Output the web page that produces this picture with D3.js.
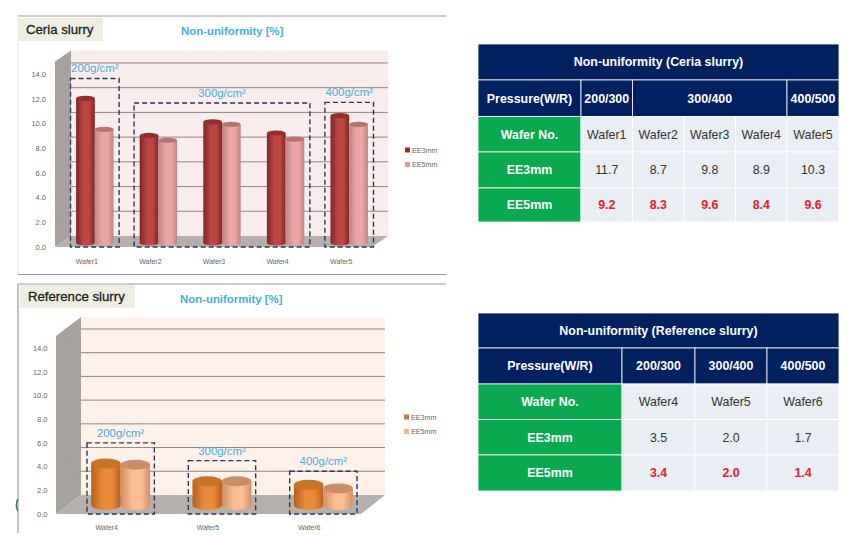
<!DOCTYPE html>
<html>
<head>
<meta charset="utf-8">
<title>Non-uniformity</title>
<script src="https://cdn.jsdelivr.net/npm/d3@7"></script>
<style>
html, body { margin: 0; padding: 0; background: #fff; }
svg { display: block; }
text { font-family: "Liberation Sans", Arial, sans-serif; }
</style>
</head>
<body>
<div id="chart"></div>
<script>
// values
var seriesNames = ["EE3mm", "EE5mm"];
var tickValues = [0, 2, 4, 6, 8, 10, 12, 14];

var ceriaWafers = ["Wafer1", "Wafer2", "Wafer3", "Wafer4", "Wafer5"];
var ceriaEE3 = [11.7, 8.7, 9.8, 8.9, 10.3];
var ceriaEE5 = [9.2, 8.3, 9.6, 8.4, 9.6];
var ceriaPressure = ["200/300", "300/400", "400/500"];
var ceriaPressureSpan = [1, 3, 1];

var refWafers = ["Wafer4", "Wafer5", "Wafer6"];
var refEE3 = [3.5, 2.0, 1.7];
var refEE5 = [3.4, 2.0, 1.4];
var refPressure = ["200/300", "300/400", "400/500"];
var refPressureSpan = [1, 1, 1];

var loadLabels = ["200g/cm\u00b2", "300g/cm\u00b2", "400g/cm\u00b2"];

var width = 857, height = 537;
var svg = d3.select("#chart").append("svg").attr("width", width).attr("height", height);
var defs = svg.append("defs");

// horizontal shading so the bars look round
function cylGradient(id, edge, mid) {
	var g = defs.append("linearGradient").attr("id", id);
	g.append("stop").attr("offset", "0%").attr("stop-color", edge);
	g.append("stop").attr("offset", "40%").attr("stop-color", mid);
	g.append("stop").attr("offset", "70%").attr("stop-color", mid);
	g.append("stop").attr("offset", "100%").attr("stop-color", edge);
}
cylGradient("ceria3", "#7f2525", "#bd4643");
cylGradient("ceria5", "#c08484", "#e9a6a4");
cylGradient("ref3", "#b95f1c", "#e98a3a");
cylGradient("ref5", "#d18f66", "#fcbd92");

function drawPanel(p) {
	var g = svg.append("g");
	var yFront = d3.scaleLinear().domain([0, 15]).range([p.frontBase, p.frontBase - 15 * p.unit]);
	var yBack = d3.scaleLinear().domain([0, 15]).range([p.backBase, p.backBase - 15 * p.unit]);
	var yBar = d3.scaleLinear().domain([0, 15]).range([p.barBase, p.barBase - 15 * p.unit]);
	var x = d3.scaleBand().domain(p.wafers).range(p.bandRange);

	// back wall, side wall, floor
	g.append("rect")
		.attr("x", p.backLeft).attr("y", yBack(15))
		.attr("width", p.backRight - p.backLeft).attr("height", p.backBase - yBack(15))
		.attr("fill", p.wall);
	g.append("polygon")
		.attr("points", [[p.frontLeft, yFront(0)], [p.frontLeft, yFront(15)], [p.backLeft, yBack(15)], [p.backLeft, yBack(0)]].join(" "))
		.attr("fill", "#a7a29e");
	g.append("polygon")
		.attr("points", [[p.frontLeft, yFront(0)], [p.backLeft, yBack(0)], [p.backRight, yBack(0)], [p.frontRight, yFront(0)]].join(" "))
		.attr("fill", "#b6b0ad");

	// gridlines, skipping the one on the floor edge
	g.selectAll(".grid").data(tickValues.slice(1)).enter().append("line")
		.attr("x1", p.backLeft).attr("x2", p.backRight)
		.attr("y1", function(d) { return yBack(d); })
		.attr("y2", function(d) { return yBack(d); })
		.attr("stroke", "#8d8682").attr("stroke-width", 1);
	g.selectAll(".sideGrid").data(tickValues.slice(1)).enter().append("line")
		.attr("x1", p.frontLeft).attr("x2", p.backLeft)
		.attr("y1", function(d) { return yFront(d); })
		.attr("y2", function(d) { return yBack(d); })
		.attr("stroke", "#9c9793").attr("stroke-width", 0.5);

	// cylinders
	p.wafers.forEach(function(w, i) {
		var c = x(w) + x.bandwidth() / 2 + p.barShift;
		var xs = d3.scaleBand().domain(seriesNames).range([c - p.barWidth, c + p.barWidth]);
		[p.ee3, p.ee5].forEach(function(vals, s) {
			var bx = xs(seriesNames[s]), bw = xs.bandwidth();
			var cx = bx + bw / 2, top = yBar(vals[i]), base = yBar(0);
			g.append("path")
				.attr("d", "M" + bx + "," + top + "V" + base +
					"A" + bw / 2 + "," + p.ry + " 0 0 0 " + (bx + bw) + "," + base +
					"V" + top + "Z")
				.attr("fill", "url(#" + p.gradients[s] + ")");
			g.append("ellipse")
				.attr("cx", cx).attr("cy", top)
				.attr("rx", bw / 2).attr("ry", p.ry)
				.attr("fill", p.tops[s]);
		});
	});

	// dashed pressure boxes with their labels
	p.boxes.forEach(function(b, i) {
		var x0 = x(b.from) + p.boxInset + p.boxShift;
		var x1 = x(b.to) + x.bandwidth() - p.boxInset + p.boxShift;
		g.append("rect")
			.attr("x", x0).attr("y", yFront(b.top))
			.attr("width", x1 - x0).attr("height", yFront(0) - yFront(b.top))
			.attr("fill", "none")
			.attr("stroke", "#2b3657").attr("stroke-width", 1.4)
			.attr("stroke-dasharray", "5,3");
		g.append("text")
			.attr("x", (x0 + x1) / 2).attr("y", yFront(b.top) - p.loadGap)
			.attr("text-anchor", "middle")
			.style("font-size", "11.4px").style("fill", "#45aedb")
			.text(loadLabels[i]);
	});

	// axes
	var yAxis = d3.axisLeft(yFront).tickValues(tickValues).tickSize(0)
		.tickFormat(function(d) { return d.toFixed(1); });
	var ya = g.append("g").attr("transform", "translate(" + p.tickX + ",0)").call(yAxis);
	ya.select(".domain").remove();
	ya.selectAll("text").style("font-size", "7.5px").style("fill", "#666")
		.style("font-family", '"Liberation Sans", Arial, sans-serif');

	var xAxis = d3.axisBottom(x).tickSize(0);
	var xa = g.append("g").attr("transform", "translate(" + p.waferShift + "," + p.waferY + ")").call(xAxis);
	xa.select(".domain").remove();
	xa.selectAll("text").style("font-size", "7px").style("fill", "#666")
		.style("font-family", '"Liberation Sans", Arial, sans-serif');

	// legend
	seriesNames.forEach(function(name, s) {
		var ly = p.legendY + s * p.legendStep;
		g.append("rect")
			.attr("x", p.legendX).attr("y", ly - 2.5)
			.attr("width", 5).attr("height", 5)
			.attr("fill", p.legendColors[s]);
		g.append("text")
			.attr("x", p.legendX + 7).attr("y", ly + 2.5)
			.style("font-size", "7.2px").style("fill", "#666")
			.text(name);
	});

	// heading tab and title
	g.append("rect")
		.attr("x", p.tab[0]).attr("y", p.tab[1])
		.attr("width", p.tab[2]).attr("height", p.tab[3])
		.attr("fill", "#edeee1");
	g.append("text")
		.attr("x", p.tab[0] + p.tabPad).attr("y", p.tabTextY)
		.style("font-size", "13.2px").style("fill", "#1c1c1c")
		.style("stroke", "#1c1c1c").style("stroke-width", 0.3)
		.text(p.name);
	g.append("text")
		.attr("x", p.titleX).attr("y", p.titleY)
		.style("font-size", "11.4px").style("font-weight", "bold").style("fill", "#43b1dc")
		.text("Non-uniformity [%]");
}

// frame lines around the two panels
[[18, 16, 446, 16], [18, 274.5, 446, 274.5], [135, 284, 446, 284], [18, 284, 135, 284], [18, 284, 18, 533]].forEach(function(l) {
	svg.append("line")
		.attr("x1", l[0]).attr("y1", l[1]).attr("x2", l[2]).attr("y2", l[3])
		.attr("stroke", "#9a9a9a").attr("stroke-width", 1.2);
});
svg.append("line").attr("x1", 18).attr("y1", 16).attr("x2", 18).attr("y2", 274)
	.attr("stroke", "#e4e4e4").attr("stroke-width", 1);

drawPanel({
	name: "Ceria slurry", wafers: ceriaWafers, ee3: ceriaEE3, ee5: ceriaEE5,
	unit: 12.36, frontBase: 247, backBase: 236, barBase: 243,
	frontLeft: 55, backLeft: 71, backRight: 388, frontRight: 372,
	bandRange: [63, 381], barShift: 0, barWidth: 18.7, ry: 2.6,
	wall: "#f8ecec",
	gradients: ["ceria3", "ceria5"], tops: ["#8f2f2e", "#b7736c"],
	legendColors: ["#96302f", "#dc9c9a"],
	boxes: [
		{ from: "Wafer1", to: "Wafer1", top: 13.63 },
		{ from: "Wafer2", to: "Wafer4", top: 11.65 },
		{ from: "Wafer5", to: "Wafer5", top: 11.7 }
	],
	boxInset: 7.5, boxShift: 0, loadGap: 6.5,
	tickX: 49, waferY: 256, waferShift: -8,
	legendX: 405, legendY: 150, legendStep: 14.5,
	tab: [18, 18, 85, 23], tabPad: 8, tabTextY: 34, titleX: 181, titleY: 35
});

drawPanel({
	name: "Reference slurry", wafers: refWafers, ee3: refEE3, ee5: refEE5,
	unit: 11.86, frontBase: 514, backBase: 495, barBase: 505,
	frontLeft: 56, backLeft: 81, backRight: 385, frontRight: 361,
	bandRange: [69, 373], barShift: 1, barWidth: 29.5, ry: 5,
	wall: "#fdf1ea",
	gradients: ["ref3", "ref5"], tops: ["#c5742a", "#cd8c68"],
	legendColors: ["#c37a3c", "#f3b78d"],
	boxes: [
		{ from: "Wafer4", to: "Wafer4", top: 6.0 },
		{ from: "Wafer5", to: "Wafer5", top: 4.5 },
		{ from: "Wafer6", to: "Wafer6", top: 3.6 }
	],
	boxInset: 17, boxShift: 1, loadGap: 6,
	tickX: 50.5, waferY: 522, waferShift: -13,
	legendX: 404, legendY: 417, legendStep: 14.5,
	tab: [20, 285, 115, 23], tabPad: 8, tabTextY: 301, titleX: 180, titleY: 303
});

// small mark left of the lower panel
svg.append("path").attr("d", "M18,499 A5,8 0 0 0 18,511")
	.attr("fill", "none").attr("stroke", "#3f6d72").attr("stroke-width", 1.4);

// tables
var navy = "#002060", green = "#0aa94f", cell = "#e9edf4", red = "#e2202f";

function drawTable(t) {
	var g = svg.append("g");
	var cols = t.cols, rows = t.rows;

	function box(c0, c1, r, fill, label, color, bold) {
		g.append("rect")
			.attr("x", cols[c0]).attr("y", rows[r])
			.attr("width", cols[c1] - cols[c0]).attr("height", rows[r + 1] - rows[r])
			.attr("fill", fill)
			.attr("stroke", "#fff").attr("stroke-width", 0.8);
		g.append("text")
			.attr("x", (cols[c0] + cols[c1]) / 2).attr("y", (rows[r] + rows[r + 1]) / 2 + 4.3)
			.attr("text-anchor", "middle")
			.style("font-size", "12.4px")
			.style("font-weight", bold ? "bold" : "normal")
			.style("fill", color)
			.text(label);
	}

	box(0, cols.length - 1, 0, navy, t.title, "#fff", true);
	box(0, 1, 1, navy, "Pressure(W/R)", "#fff", true);
	var c = 1;
	t.pressure.forEach(function(label, i) {
		box(c, c + t.span[i], 1, navy, label, "#fff", true);
		c += t.span[i];
	});
	box(0, 1, 2, green, "Wafer No.", "#fff", true);
	box(0, 1, 3, green, seriesNames[0], "#fff", true);
	box(0, 1, 4, green, seriesNames[1], "#fff", true);
	t.wafers.forEach(function(w, i) {
		box(i + 1, i + 2, 2, cell, w, "#333", false);
		box(i + 1, i + 2, 3, cell, t.ee3[i].toFixed(1), "#333", false);
		box(i + 1, i + 2, 4, cell, t.ee5[i].toFixed(1), red, true);
	});
}

drawTable({
	title: "Non-uniformity (Ceria slurry)",
	pressure: ceriaPressure, span: ceriaPressureSpan,
	wafers: ceriaWafers, ee3: ceriaEE3, ee5: ceriaEE5,
	cols: [478, 581, 632.5, 684, 735.5, 787, 839],
	rows: [44, 80, 116.5, 152, 188, 222]
});

drawTable({
	title: "Non-uniformity (Reference slurry)",
	pressure: refPressure, span: refPressureSpan,
	wafers: refWafers, ee3: refEE3, ee5: refEE5,
	cols: [478, 622, 695, 767, 839],
	rows: [313, 348, 384, 419.5, 455, 491]
});
</script>
</body>
</html>
